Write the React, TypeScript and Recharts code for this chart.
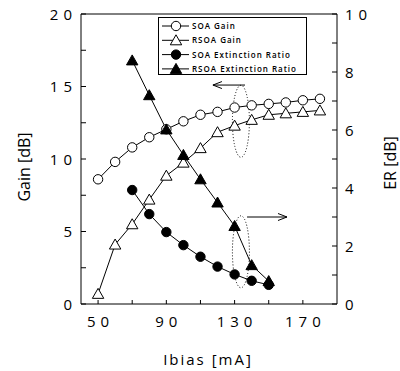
import React from 'react';
import { LineChart, Line, XAxis, YAxis, Legend, ReferenceLine, ReferenceDot, Label } from 'recharts';

const currents = [50, 60, 70, 80, 90, 100, 110, 120, 130, 140, 150, 160, 170, 180];
const soaGain = [8.6, 9.8, 10.8, 11.5, 12.05, 12.6, 13.05, 13.25, 13.55, 13.7, 13.8, 13.9, 14.05, 14.15];
const rsoaGain = [0.7, 4.1, 5.5, 7.2, 8.85, 9.75, 10.75, 11.85, 12.3, 12.7, 13.05, 13.15, 13.25, 13.35];
const soaER = [null, null, 3.93, 3.1, 2.48, 2.03, 1.63, 1.29, 1.02, 0.8, 0.66, null, null, null];
const rsoaER = [null, null, 8.4, 7.2, 6.02, 5.14, 4.3, 3.5, 2.69, 1.34, 0.79, null, null, null];

const xTicks = [50, 70, 90, 110, 130, 150, 170];
const xLabeled = [50, 90, 130, 170];
const leftTicks = [0, 2.5, 5, 7.5, 10, 12.5, 15, 17.5, 20];
const leftLabeled = [0, 5, 10, 15, 20];
const rightTicks = [0, 1, 2, 3, 4, 5, 6, 7, 8, 9, 10];
const rightLabeled = [0, 2, 4, 6, 8, 10];

const seriesNames = {
  soaGain: 'SOA Gain',
  rsoaGain: 'RSOA Gain',
  soaER: 'SOA Extinction Ratio',
  rsoaER: 'RSOA Extinction Ratio',
};

// annotation anchors (data coordinates)
const gainEllipse = { x: 133.7, y: 12.6 };
const gainArrow = { from: 136.1, to: 117.3, y: 15.1 };
const erEllipse = { x: 133.7, y: 1.8 };
const erArrow = { from: 137.3, to: 160.7, y: 3.0 };

const data = currents.map((c, i) => ({
  current: c,
  soaGain: soaGain[i],
  rsoaGain: rsoaGain[i],
  soaER: soaER[i],
  rsoaER: rsoaER[i],
}));

const keys = ['soaGain', 'rsoaGain', 'soaER', 'rsoaER'];

const FONT = '"Open Sans", sans-serif';
const TICK_FS = 15;
const LS = 5;

const markerShape = (key: string, cx: number, cy: number, k?: any) => {
  const filled = key === 'soaER' || key === 'rsoaER';
  const tri = key === 'rsoaGain' || key === 'rsoaER';
  const fill = filled ? '#000' : '#fff';
  if (tri) {
    const pts = `${cx},${cy - 5.5} ${cx - 5.7},${cy + 4.5} ${cx + 5.7},${cy + 4.5}`;
    return <polygon key={k} points={pts} fill={fill} stroke="#000" strokeWidth={1} />;
  }
  return <circle key={k} cx={cx} cy={cy} r={4.7} fill={fill} stroke="#000" strokeWidth={1} />;
};

const makeDot = (key: string) => (props: any) => {
  const { cx, cy, index, value } = props;
  if (value === null || value === undefined || cx == null || cy == null) return <g key={`n-${key}-${index}`} />;
  return markerShape(key, cx, cy, `${key}-${index}`);
};

const LeftTick = (props: any) => {
  const { x, y, payload } = props;
  const v = payload.value;
  return (
    <g>
      <line x1={x} x2={x + 5} y1={y} y2={y} stroke="#000" />
      {leftLabeled.includes(v) && (
        <text x={x - 9 + LS} y={y} dy={5.5} textAnchor="end" fontFamily={FONT} fontSize={TICK_FS} letterSpacing={LS} fill="#000">
          {v}
        </text>
      )}
    </g>
  );
};

const RightTick = (props: any) => {
  const { x, y, payload } = props;
  const v = payload.value;
  return (
    <g>
      <line x1={x - 5} x2={x} y1={y} y2={y} stroke="#000" />
      {rightLabeled.includes(v) && (
        <text x={x + 8} y={y} dy={5.5} textAnchor="start" fontFamily={FONT} fontSize={TICK_FS} letterSpacing={LS} fill="#000">
          {v}
        </text>
      )}
    </g>
  );
};

const BottomTick = (props: any) => {
  const { x, y, payload } = props;
  const v = payload.value;
  return (
    <g>
      <line x1={x} x2={x} y1={y - 4} y2={y} stroke="#000" />
      {xLabeled.includes(v) && (
        <text x={x + LS / 2} y={y + 23} textAnchor="middle" fontFamily={FONT} fontSize={TICK_FS} letterSpacing={LS} fill="#000">
          {v}
        </text>
      )}
    </g>
  );
};

const renderLegend = (props: any) => {
  const payload = [...(props.payload || [])].sort(
    (a: any, b: any) => keys.indexOf(a.dataKey) - keys.indexOf(b.dataKey)
  );
  return (
    <svg width={149} height={58} style={{ display: 'block' }}>
      <rect x={0.5} y={0.5} width={148} height={57} fill="#fff" stroke="#000" />
      {payload.map((entry: any, i: number) => {
        const key = entry.dataKey as string;
        const y = 9 + i * 14.3;
        return (
          <g key={key}>
            <line x1={4} x2={31} y1={y} y2={y} stroke="#000" />
            {markerShape(key, 18, y)}
            <text x={34} y={y} dy={3} fontFamily={FONT} fontSize={8} fontWeight={600} letterSpacing={1} fill="#000">
              {entry.value}
            </text>
          </g>
        );
      })}
    </svg>
  );
};

const Ellipse = (props: any) => {
  const { cx, cy } = props;
  return <ellipse cx={cx} cy={cy} rx={8.5} ry={36} fill="none" stroke="#000" strokeWidth={1} strokeDasharray="1 2" />;
};

const ArrowHead = (dir: number) => (props: any) => {
  const { cx, cy } = props;
  return (
    <polyline
      points={`${cx + dir * 9},${cy - 3.5} ${cx},${cy} ${cx + dir * 9},${cy + 3.5}`}
      fill="none"
      stroke="#000"
      strokeWidth={1}
    />
  );
};

export default function App() {
  return (
    <div style={{ position: 'absolute', left: 0, top: 0, width: 400, height: 371, background: '#fff' }}>
      <LineChart width={400} height={371} data={data} margin={{ top: 14, right: 0, bottom: 0, left: 0 }}>
        <XAxis
          dataKey="current"
          type="number"
          domain={[40, 190]}
          ticks={xTicks}
          interval={0}
          height={67}
          tickSize={0}
          tickMargin={0}
          tickLine={false}
          tick={BottomTick}
          axisLine={{ stroke: '#000' }}
        >
          <Label
            content={(p: any) => {
              const vb = p.viewBox;
              return (
                <text x={vb.x + vb.width / 2 - 1} y={vb.y + 61} textAnchor="middle" fontFamily={FONT} fontSize={15} letterSpacing={2} fill="#000">
                  Ibias [mA]
                </text>
              );
            }}
          />
        </XAxis>
        <YAxis
          yAxisId="left"
          domain={[0, 20]}
          ticks={leftTicks}
          interval={0}
          width={81}
          tickSize={0}
          tickMargin={0}
          tickLine={false}
          tick={LeftTick}
          axisLine={{ stroke: '#000' }}
        >
          <Label
            content={(p: any) => {
              const vb = p.viewBox;
              const cx = 24;
              const cy = vb.y + 153;
              return (
                <text x={cx} y={cy} transform={`rotate(-90 ${cx} ${cy})`} dy={5.5} textAnchor="middle" fontFamily={FONT} fontSize={16} fill="#000">
                  Gain [dB]
                </text>
              );
            }}
          />
        </YAxis>
        <YAxis
          yAxisId="right"
          orientation="right"
          domain={[0, 10]}
          ticks={rightTicks}
          interval={0}
          width={63}
          tickSize={0}
          tickMargin={0}
          tickLine={false}
          tick={RightTick}
          axisLine={{ stroke: '#000' }}
        >
          <Label
            content={(p: any) => {
              const vb = p.viewBox;
              const cx = 390;
              const cy = vb.y + 149;
              return (
                <text x={cx} y={cy} transform={`rotate(-90 ${cx} ${cy})`} dy={5.5} textAnchor="middle" fontFamily={FONT} fontSize={16} fill="#000">
                  ER [dB]
                </text>
              );
            }}
          />
        </YAxis>
        <ReferenceLine yAxisId="left" y={20} stroke="#000" />
        <Legend
          layout="horizontal"
          verticalAlign="middle"
          align="center"
          content={renderLegend}
          wrapperStyle={{ position: 'absolute', left: 158, top: 17, width: 149, height: 58 }}
        />
        {keys.map((k) => (
          <Line
            key={k}
            yAxisId={k === 'soaGain' || k === 'rsoaGain' ? 'left' : 'right'}
            dataKey={k}
            name={(seriesNames as any)[k]}
            stroke="#000"
            strokeWidth={1}
            dot={makeDot(k)}
            activeDot={false}
            isAnimationActive={false}
            connectNulls={false}
          />
        ))}
        <ReferenceLine
          yAxisId="left"
          segment={[{ x: gainArrow.from, y: gainArrow.y }, { x: gainArrow.to, y: gainArrow.y }]}
          stroke="#000"
        />
        <ReferenceDot yAxisId="left" x={gainArrow.to} y={gainArrow.y} shape={ArrowHead(1)} />
        <ReferenceDot yAxisId="left" x={gainEllipse.x} y={gainEllipse.y} shape={Ellipse} />
        <ReferenceLine
          yAxisId="right"
          segment={[{ x: erArrow.from, y: erArrow.y }, { x: erArrow.to, y: erArrow.y }]}
          stroke="#000"
        />
        <ReferenceDot yAxisId="right" x={erArrow.to} y={erArrow.y} shape={ArrowHead(-1)} />
        <ReferenceDot yAxisId="right" x={erEllipse.x} y={erEllipse.y} shape={Ellipse} />
      </LineChart>
    </div>
  );
}
